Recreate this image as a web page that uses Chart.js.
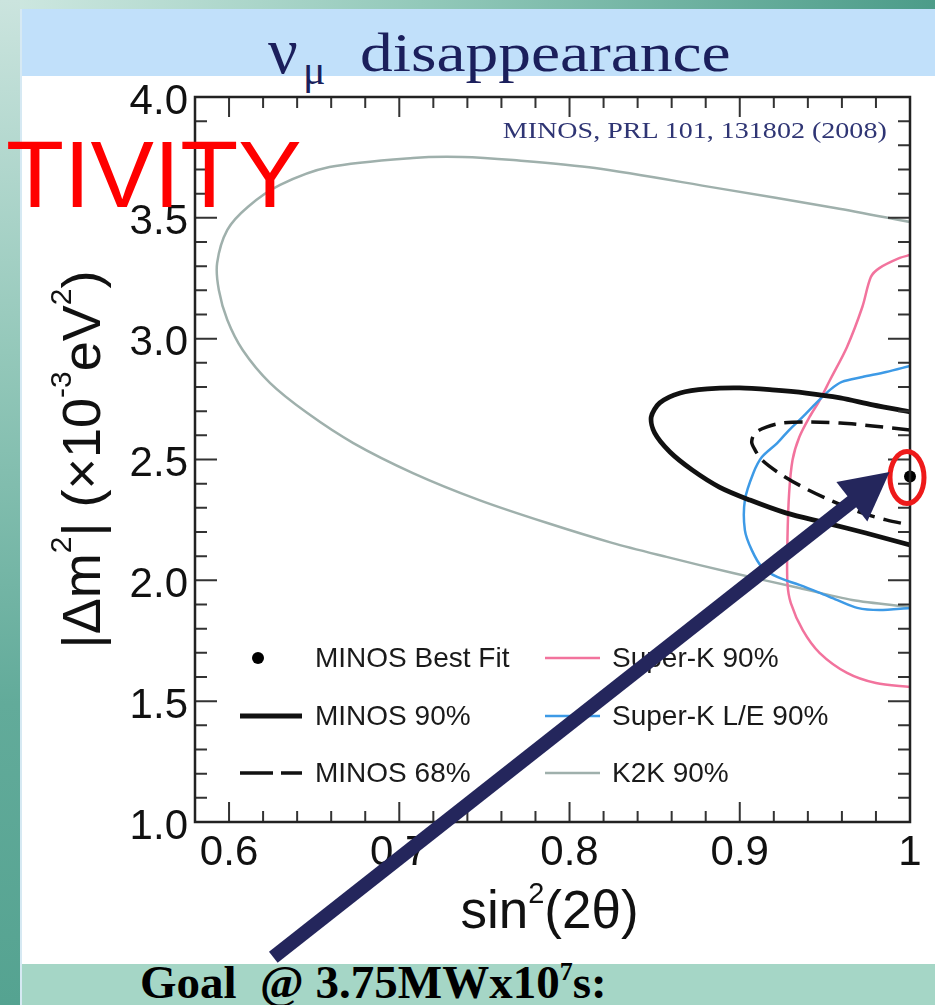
<!DOCTYPE html>
<html lang="en">
<head>
<meta charset="utf-8">
<title>νμ disappearance</title>
<script src="https://cdn.jsdelivr.net/npm/chart.js@4.4.1/dist/chart.umd.min.js"></script>
<style>
  html, body { margin: 0; padding: 0; }
  body { width: 935px; height: 1005px; position: relative; overflow: hidden; background: #ffffff; }
  .band { position: absolute; }
  #topStrip { left: 0; top: 0; width: 935px; height: 9px; background: linear-gradient(90deg, #cfe8e1 0%, #93c9ba 45%, #4c9c89 100%); }
  #leftStrip { left: 0; top: 0; width: 20px; height: 1005px; background: linear-gradient(180deg, #cbe4de 0%, #94c8ba 35%, #62ab9a 70%, #55a391 100%); }
  #leftEdge { left: 20px; top: 9px; width: 2px; height: 996px; background: #d6e9f3; }
  #header { left: 22px; top: 9px; width: 913px; height: 67px; background: #c1e0fa; }
  #footer { left: 22px; top: 964px; width: 913px; height: 41px; background: #a5d6c6; }
  .txt { position: absolute; white-space: nowrap; line-height: 1; margin: 0; }
  .serif { font-family: "Liberation Serif", "Times New Roman", serif; }
  #nu { left: 268px; top: 18px; font-size: 66px; color: #1b1f5c; z-index: 1; }
  #mu { left: 303px; top: 49px; font-size: 42px; color: #1b1f5c; z-index: 1; }
  #dis { left: 360px; top: 25px; font-size: 55px; color: #1b1f5c; transform: scaleX(1.19); transform-origin: left center; z-index: 1; }
  #goal { left: 140px; top: 959px; font-size: 47px; font-weight: bold; color: #000; z-index: 1; }
  #goal sup { font-size: 26px; vertical-align: 18px; line-height: 0; }
  #ref { right: 48px; top: 119px; font-size: 23px; color: #2f3574; transform: scaleX(1.22); transform-origin: right center; z-index: 3; }
  #tivity { left: 6px; top: 127px; font-size: 95px; color: #ff0000; font-family: "Liberation Sans", Arial, sans-serif; z-index: 3; }
  #chart { position: absolute; left: 0; top: 0; z-index: 2; }
</style>
</head>
<body>
<div class="band" id="topStrip"></div>
<div class="band" id="leftStrip"></div>
<div class="band" id="leftEdge"></div>
<div class="band" id="header"></div>
<div class="band" id="footer"></div>
<div class="txt serif" id="nu">ν</div>
<div class="txt serif" id="mu">μ</div>
<div class="txt serif" id="dis">disappearance</div>
<div class="txt serif" id="goal">Goal&nbsp; @ 3.75MWx10<sup>7</sup>s:</div>
<canvas id="chart" width="935" height="1005"></canvas>
<div class="txt serif" id="ref">MINOS, PRL 101, 131802 (2008)</div>
<div class="txt" id="tivity">TIVITY</div>

<script>
// Axis ticks
const xTickValues = [0.6, 0.7, 0.8, 0.9, 1.0];
const xTickLabels = ['0.6', '0.7', '0.8', '0.9', '1'];
const yTickValues = [1.0, 1.5, 2.0, 2.5, 3.0, 3.5, 4.0];
const yTickLabels = ['1.0', '1.5', '2.0', '2.5', '3.0', '3.5', '4.0'];

// Axis titles as [text, isSuperscript] runs
const xTitleRuns = [['sin', false], ['2', true], ['(2θ)', false]];
const yTitleRuns = [['|Δm', false], ['2', true], ['| (×10', false], ['-3', true], ['eV', false], ['2', true], [')', false]];

// Allowed-region contours, [sin²(2θ), |Δm²| in 10⁻³ eV²]
const minosBestFit = [[1.0, 2.43]];

const minos90 = [
  [1.0, 2.697], [0.978, 2.726], [0.959, 2.755], [0.939, 2.775], [0.919, 2.788],
  [0.900, 2.796], [0.881, 2.792], [0.865, 2.775], [0.853, 2.734], [0.848, 2.676],
  [0.850, 2.610], [0.859, 2.531], [0.872, 2.457], [0.888, 2.386], [0.906, 2.332],
  [0.927, 2.279], [0.951, 2.237], [0.974, 2.196], [1.0, 2.146]
];

const minos68 = [
  [1.0, 2.622], [0.978, 2.639], [0.959, 2.651], [0.939, 2.655], [0.925, 2.651],
  [0.916, 2.635], [0.909, 2.610], [0.907, 2.572], [0.909, 2.539], [0.913, 2.498],
  [0.923, 2.444], [0.937, 2.386], [0.953, 2.332], [0.970, 2.283], [0.986, 2.250],
  [1.0, 2.229]
];

const superK90 = [
  [1.0, 3.346], [0.994, 3.334], [0.982, 3.292], [0.977, 3.255], [0.972, 3.131],
  [0.963, 2.966], [0.953, 2.829], [0.947, 2.746], [0.941, 2.676], [0.935, 2.593],
  [0.931, 2.498], [0.929, 2.361], [0.928, 2.167], [0.928, 1.989], [0.930, 1.906],
  [0.937, 1.794], [0.947, 1.699], [0.963, 1.617], [0.980, 1.575], [1.0, 1.559]
];

const superKLE90 = [
  [1.0, 2.887], [0.986, 2.862], [0.972, 2.841], [0.960, 2.821], [0.953, 2.788],
  [0.945, 2.734], [0.937, 2.676], [0.929, 2.622], [0.922, 2.568], [0.913, 2.510],
  [0.908, 2.444], [0.903, 2.332], [0.903, 2.208], [0.907, 2.126], [0.913, 2.055],
  [0.922, 2.014], [0.935, 1.981], [0.947, 1.948], [0.957, 1.919], [0.969, 1.886],
  [0.982, 1.877], [1.0, 1.886]
];

const k2k90 = [
  [1.0, 3.483], [0.956, 3.541], [0.886, 3.624], [0.815, 3.706], [0.767, 3.739],
  [0.737, 3.752], [0.708, 3.748], [0.659, 3.710], [0.630, 3.636], [0.611, 3.545],
  [0.599, 3.450], [0.593, 3.313], [0.594, 3.201], [0.599, 3.077], [0.608, 2.953],
  [0.624, 2.817], [0.646, 2.692], [0.673, 2.568], [0.708, 2.444], [0.747, 2.332],
  [0.787, 2.237], [0.825, 2.155], [0.857, 2.097], [0.896, 2.030], [0.935, 1.968],
  [0.966, 1.919], [1.0, 1.890]
];

// Pointer from the goal line up to the best-fit point (axis units)
const arrowFrom = [0.626, 0.44];
const arrowTo = [0.988, 2.448];

// Legend layout: two columns of three entries
const legendColumns = [
  ['MINOS Best Fit', 'MINOS 90%', 'MINOS 68%'],
  ['Super-K 90%', 'Super-K L/E 90%', 'K2K 90%']
];

const SANS = '"Liberation Sans", Arial, Helvetica, sans-serif';
Chart.defaults.font.family = SANS;
Chart.defaults.color = '#111';

const toXY = pts => pts.map(([x, y]) => ({ x, y }));

const lineSet = (label, pts, color, width, dash, legendDash) => ({
  label, data: toXY(pts), showLine: true, fill: false,
  borderColor: color, borderWidth: width, borderDash: dash || [],
  legendDash: legendDash || dash || [],
  pointRadius: 0, pointHoverRadius: 0, tension: 0.3
});

// Minor/major tick positions between the labelled ticks
function tickMarks(majors, parts, lo, hi) {
  const step = (majors[1] - majors[0]) / parts;
  const out = [];
  for (let k = -parts; k <= majors.length * parts; k++) {
    const v = majors[0] + k * step;
    if (v > lo + 1e-6 && v < hi - 1e-6) out.push({ v, major: k % parts === 0 });
  }
  return out;
}

// Text with raised superscript runs, centred on x = 0, baseline on y = 0
function drawRuns(ctx, runs, size, supSize, rise) {
  const fontFor = sup => (sup ? supSize : size) + 'px ' + SANS;
  let total = 0;
  const widths = runs.map(([t, sup]) => { ctx.font = fontFor(sup); const w = ctx.measureText(t).width; total += w; return w; });
  let cx = -total / 2;
  runs.forEach(([t, sup], i) => {
    ctx.font = fontFor(sup);
    ctx.fillText(t, cx, sup ? -rise : 0);
    cx += widths[i];
  });
}

// Closed frame with inward ticks on all four sides, plus axis titles
const axisFrame = {
  id: 'axisFrame',
  afterDatasetsDraw(chart) {
    const { ctx, chartArea: a, scales: { x, y } } = chart;
    ctx.save();
    ctx.strokeStyle = '#333';
    ctx.lineWidth = 2;
    ctx.beginPath();
    for (const t of tickMarks(xTickValues, 5, x.min, x.max)) {
      const px = x.getPixelForValue(t.v), len = t.major ? 20 : 11;
      ctx.moveTo(px, a.bottom); ctx.lineTo(px, a.bottom - len);
      ctx.moveTo(px, a.top); ctx.lineTo(px, a.top + len);
    }
    for (const t of tickMarks(yTickValues, 5, y.min, y.max)) {
      const py = y.getPixelForValue(t.v), len = t.major ? 22 : 12;
      ctx.moveTo(a.left, py); ctx.lineTo(a.left + len, py);
      ctx.moveTo(a.right, py); ctx.lineTo(a.right - len, py);
    }
    ctx.stroke();
    ctx.strokeStyle = '#222';
    ctx.lineWidth = 2.5;
    ctx.strokeRect(a.left, a.top, a.right - a.left, a.bottom - a.top);

    ctx.fillStyle = '#111';
    ctx.textAlign = 'left';
    ctx.textBaseline = 'alphabetic';
    ctx.save();
    ctx.translate((a.left + a.right) / 2 - 3, a.bottom + 106);
    drawRuns(ctx, xTitleRuns, 53, 29, 25);
    ctx.restore();
    ctx.save();
    ctx.translate(a.left - 95, (a.top + a.bottom) / 2);
    ctx.rotate(-Math.PI / 2);
    drawRuns(ctx, yTitleRuns, 54, 30, 29);
    ctx.restore();
    ctx.restore();
  }
};

// Legend drawn inside the plot, lower left
const innerLegend = {
  id: 'innerLegend',
  afterDraw(chart) {
    const { ctx, chartArea: a } = chart;
    const colX = [a.left + 45, a.left + 350];
    const symW = [62, 55];
    const textX = [a.left + 120, a.left + 417];
    const rowY = [a.top + 561, a.top + 619, a.top + 676];
    ctx.save();
    ctx.font = '28px ' + SANS;
    ctx.textBaseline = 'middle';
    ctx.textAlign = 'left';
    legendColumns.forEach((col, c) => {
      col.forEach((label, r) => {
        const ds = chart.data.datasets.find(d => d.label === label);
        const yy = rowY[r];
        if (!ds.showLine) {
          ctx.fillStyle = ds.pointBackgroundColor;
          ctx.beginPath();
          ctx.arc(colX[c] + 18, yy, ds.pointRadius, 0, Math.PI * 2);
          ctx.fill();
        } else {
          ctx.strokeStyle = ds.borderColor;
          ctx.lineWidth = ds.borderWidth;
          ctx.setLineDash(ds.legendDash);
          ctx.beginPath();
          ctx.moveTo(colX[c], yy);
          ctx.lineTo(colX[c] + symW[c], yy);
          ctx.stroke();
          ctx.setLineDash([]);
        }
        ctx.fillStyle = '#1a1a1a';
        ctx.fillText(label, textX[c], yy + 1);
      });
    });
    ctx.restore();
  }
};

// Red ring around the best fit and the dark pointer arrow
const highlight = {
  id: 'highlight',
  afterDraw(chart) {
    const { ctx, scales: { x, y } } = chart;
    const cx = x.getPixelForValue(minosBestFit[0][0]) - 3;
    const cy = y.getPixelForValue(minosBestFit[0][1]) + 1;
    ctx.save();
    ctx.strokeStyle = '#ee1a1a';
    ctx.lineWidth = 5;
    ctx.beginPath();
    ctx.ellipse(cx, cy, 17, 26, 0, 0, Math.PI * 2);
    ctx.stroke();

    const x0 = x.getPixelForValue(arrowFrom[0]), y0 = y.getPixelForValue(arrowFrom[1]);
    const x1 = x.getPixelForValue(arrowTo[0]), y1 = y.getPixelForValue(arrowTo[1]);
    const len = Math.hypot(x1 - x0, y1 - y0);
    const ux = (x1 - x0) / len, uy = (y1 - y0) / len;
    const head = 48, half = 25;
    const bx = x1 - ux * head, by = y1 - uy * head;
    ctx.strokeStyle = '#24265c';
    ctx.fillStyle = '#24265c';
    ctx.lineWidth = 14;
    ctx.lineCap = 'butt';
    ctx.beginPath();
    ctx.moveTo(x0, y0);
    ctx.lineTo(bx + ux * 4, by + uy * 4);
    ctx.stroke();
    ctx.beginPath();
    ctx.moveTo(x1, y1);
    ctx.lineTo(bx - uy * half, by + ux * half);
    ctx.lineTo(bx + uy * half, by - ux * half);
    ctx.closePath();
    ctx.fill();
    ctx.restore();
  }
};

new Chart(document.getElementById('chart'), {
  type: 'scatter',
  data: {
    datasets: [
      { label: 'MINOS Best Fit', data: toXY(minosBestFit), showLine: false,
        pointRadius: 6, pointHoverRadius: 6, pointBackgroundColor: '#000000',
        pointBorderWidth: 0, clip: false },
      lineSet('MINOS 68%', minos68, '#111111', 3.5, [18, 9], [33, 8]),
      lineSet('MINOS 90%', minos90, '#111111', 4.8),
      lineSet('Super-K L/E 90%', superKLE90, '#3d9ae6', 2.5),
      lineSet('Super-K 90%', superK90, '#f2739d', 2.5),
      lineSet('K2K 90%', k2k90, '#9fb0ac', 2.5)
    ]
  },
  options: {
    responsive: false,
    animation: false,
    devicePixelRatio: 1,
    events: [],
    layout: { padding: { left: 30, top: 97, right: 25, bottom: 73 } },
    plugins: { legend: { display: false }, tooltip: { enabled: false } },
    scales: {
      x: {
        type: 'linear', min: 0.58, max: 1.0,
        grid: { display: false, drawTicks: false },
        border: { display: false },
        afterBuildTicks: s => { s.ticks = xTickValues.map(v => ({ value: v })); },
        afterFit: s => { s.height = 110; },
        ticks: {
          autoSkip: false, maxRotation: 0, padding: 6, color: '#111',
          font: { size: 42 },
          callback: v => xTickLabels[xTickValues.findIndex(t => Math.abs(t - v) < 1e-9)]
        },
        title: { display: false }
      },
      y: {
        type: 'linear', min: 1.0, max: 4.0,
        grid: { display: false, drawTicks: false },
        border: { display: false },
        afterBuildTicks: s => { s.ticks = yTickValues.map(v => ({ value: v })); },
        afterFit: s => { s.width = 165; },
        ticks: {
          autoSkip: false, padding: 7, color: '#111', labelOffset: 5,
          font: { size: 42 },
          callback: v => yTickLabels[yTickValues.findIndex(t => Math.abs(t - v) < 1e-9)]
        },
        title: { display: false }
      }
    }
  },
  plugins: [axisFrame, innerLegend, highlight]
});
</script>
</body>
</html>
